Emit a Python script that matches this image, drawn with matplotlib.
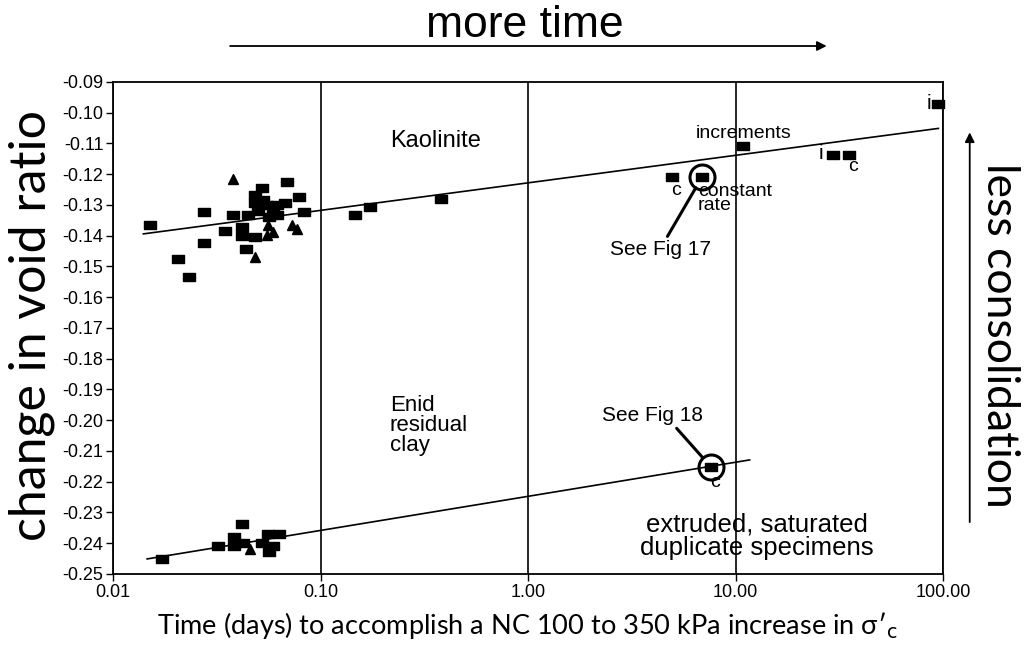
import matplotlib
matplotlib.use("Agg")
import matplotlib.pyplot as plt
from matplotlib.path import Path
import numpy as np

# Kaolinite: square markers (time in days, change in void ratio)
kaol_sq_x = [0.0151, 0.0275, 0.0275, 0.0206, 0.0232, 0.0347, 0.0379, 0.0419, 0.0419,
             0.0448, 0.0483, 0.0437, 0.0522, 0.0483, 0.0483, 0.0552, 0.0617, 0.0674,
             0.0590, 0.0617, 0.0690, 0.0787, 0.0832, 0.0500, 0.0530, 0.0565,
             0.1466, 0.1733, 0.381, 4.94, 6.90, 10.87, 29.5, 35.2, 95.0]
kaol_sq_y = [-0.1365, -0.1323, -0.1424, -0.1476, -0.1534, -0.1385, -0.1333, -0.1370, -0.1400,
             -0.1333, -0.1404, -0.1443, -0.1245, -0.1267, -0.1294, -0.1300, -0.1300, -0.1294,
             -0.1323, -0.1333, -0.1225, -0.1274, -0.1323, -0.1320, -0.1285, -0.1340,
             -0.1333, -0.1307, -0.1280, -0.1209, -0.1209, -0.1108, -0.1137, -0.1137, -0.0972]
kaol_tri_x = [0.0379, 0.0558, 0.0590, 0.0552, 0.0730, 0.0770, 0.0483]
kaol_tri_y = [-0.1216, -0.1365, -0.1388, -0.1398, -0.1365, -0.1378, -0.1469]
kaol_fit_x = [0.014, 95.0]
kaol_fit_y = [-0.1394, -0.1051]
kaol_circled = (6.90, -0.1209)

# Enid residual clay
enid_sq_x = [0.01722, 0.0321, 0.0419, 0.0383, 0.0383, 0.0423, 0.0522, 0.0558, 0.0631,
             0.0590, 0.0565, 7.62]
enid_sq_y = [-0.2451, -0.2409, -0.2337, -0.2380, -0.2409, -0.2399, -0.2399, -0.2370, -0.2370,
             -0.2409, -0.2428, -0.2152]
enid_tri_x = [0.0457]
enid_tri_y = [-0.2419]
enid_fit_x = [0.0146, 11.7]
enid_fit_y = [-0.2451, -0.2129]
enid_circled = (7.62, -0.2152)

x_ticks = [0.01, 0.1, 1, 10, 100]
x_ticklabels = ["0.01", "0.10", "1.00", "10.00", "100.00"]
y_ticks = np.round(np.arange(-0.25, -0.085, 0.01), 2)

# flat rectangle marker like the printed symbols
rect = Path([(-1, -0.72), (1, -0.72), (1, 0.72), (-1, 0.72), (-1, -0.72)],
            [Path.MOVETO, Path.LINETO, Path.LINETO, Path.LINETO, Path.CLOSEPOLY])

fig = plt.figure(figsize=(10.24, 6.48), dpi=100)
ax = fig.add_axes([0.1104, 0.1142, 0.8105, 0.7593])

ax.plot(kaol_fit_x, kaol_fit_y, color="k", lw=1.2)
ax.plot(enid_fit_x, enid_fit_y, color="k", lw=1.2)
ax.plot(kaol_sq_x, kaol_sq_y, ls="none", marker=rect, ms=8.5, color="k", clip_on=False)
ax.plot(enid_sq_x, enid_sq_y, ls="none", marker=rect, ms=8.5, color="k")
ax.plot(kaol_tri_x, kaol_tri_y, ls="none", marker="^", ms=6.5, color="k")
ax.plot(enid_tri_x, enid_tri_y, ls="none", marker="^", ms=6.5, color="k")

for px, py in (kaol_circled, enid_circled):
    ax.plot(px, py, marker="o", ms=18, mfc="none", mec="k", mew=2.2)

ax.set_xscale("log")
ax.set_xlim(0.01, 100)
ax.set_ylim(-0.25, -0.09)
ax.set_xticks(x_ticks)
ax.set_xticklabels(x_ticklabels)
ax.minorticks_off()
ax.set_yticks(y_ticks)
ax.set_yticklabels(["%.2f" % v for v in y_ticks])
ax.grid(axis="x", which="major", color="k", lw=1.2)
ax.tick_params(labelsize=13, length=5, width=1, direction="out", pad=2)
for lab in ax.get_xticklabels() + ax.get_yticklabels():
    lab.set_family("Liberation Sans")
for s in ax.spines.values():
    s.set_linewidth(1.3)

txt = dict(family="Liberation Sans", color="k")
ax.text(0.216, -0.1092, "Kaolinite", fontsize=17, va="center", ha="left", **txt)
ax.text(0.216, -0.1918, "Enid\nresidual\nclay", fontsize=16, va="top", ha="left",
        linespacing=0.95, **txt)
ax.text(12.7, -0.2377, "extruded, saturated\nduplicate specimens", fontsize=18.5,
        va="center", ha="center", linespacing=1.0, **txt)
ax.text(11.0, -0.1066, "increments", fontsize=14, va="center", ha="center", **txt)
ax.text(6.59, -0.1228, "constant\nrate", fontsize=14, va="top", ha="left",
        linespacing=0.8, **txt)
ax.text(5.16, -0.1254, "c", fontsize=14, va="center", ha="center", **txt)
ax.text(25.8, -0.1134, "i", fontsize=15, va="center", ha="center", **txt)
ax.text(36.8, -0.1176, "c", fontsize=14, va="center", ha="center", **txt)
ax.text(85.5, -0.0970, "i", fontsize=15, va="center", ha="center", **txt)
ax.text(7.96, -0.2201, "c", fontsize=14, va="center", ha="center", **txt)

ax.annotate("See Fig 17", xy=kaol_circled, xytext=(4.33, -0.1446), fontsize=15,
            ha="center", va="center", family="Liberation Sans",
            arrowprops=dict(arrowstyle="-", lw=2.2, color="k", relpos=(0.55, 1.0),
                            shrinkA=1, shrinkB=9))
ax.annotate("See Fig 18", xy=enid_circled, xytext=(3.96, -0.1983), fontsize=15,
            ha="center", va="center", family="Liberation Sans",
            arrowprops=dict(arrowstyle="-", lw=2.2, color="k", relpos=(0.71, 0.0),
                            shrinkA=1, shrinkB=9))

# outer labels and direction arrows
fig.text(0.513, 0.96, "more time", fontsize=32, ha="center", va="center",
         family="Liberation Sans")
fig.add_artist(matplotlib.patches.FancyArrowPatch(
    (0.222, 0.929), (0.81, 0.929), transform=fig.transFigure,
    arrowstyle="-|>", mutation_scale=14, lw=1.3, color="k"))
fig.text(0.031, 0.498, "change in void ratio", fontsize=36, rotation=90,
         ha="center", va="center", family="Lato")
fig.text(0.976, 0.483, "less consolidation", fontsize=32, rotation=270,
         ha="center", va="center", family="Lato")
fig.add_artist(matplotlib.patches.FancyArrowPatch(
    (0.947, 0.19), (0.947, 0.80), transform=fig.transFigure,
    arrowstyle="-|>", mutation_scale=14, lw=1.3, color="k"))
fig.text(0.515, 0.035,
         "Time (days) to accomplish a NC 100 to 350 kPa increase in σ′$_\\mathrm{c}$",
         fontsize=19.5, ha="center", va="center", family="Lato")

fig.savefig("out.png", dpi=100)
